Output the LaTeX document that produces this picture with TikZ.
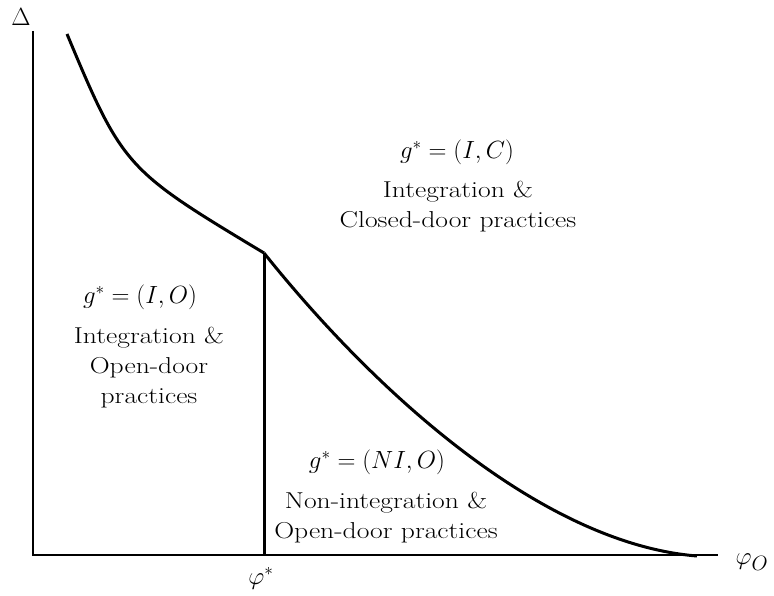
\documentclass[tikz,border=0pt]{standalone}
\usepackage{fontspec}
\usepackage{graphicx}
\newcommand\stretchlbl[1]{\scalebox{1.2}[1]{\begin{tabular}{@{}c@{}}#1\end{tabular}}}
\begin{document}
\begin{tikzpicture}[x=1pt,y=-1pt,
  axis/.style={line width=1.3pt},
  curve/.style={line width=3pt, line join=round},
  lab/.style={font=\fontsize{23}{30}\selectfont, inner sep=0pt},
  mlab/.style={font=\fontsize{24}{30}\selectfont, inner sep=0pt}]
\useasboundingbox (0,0) rectangle (774,596);
\coordinate (O) at (33,555);
\coordinate (ytop) at (33,31);
\coordinate (xend) at (718,555);
\coordinate (S) at (67,34);
\coordinate (K) at (264,253);
\coordinate (Kb) at (264,555);
\coordinate (E) at (697,556);
\draw[axis] (ytop) -- (O) -- (xend);
\draw[curve] (S) .. controls (123,168) and (126,170) .. (K);
\draw[curve] (K) .. controls (378.7,396.3) and (544.2,543.7) .. (E);
\draw[curve] (K) -- (Kb);
\node[mlab] (delta) at (21,17) {$\Delta$};
\node[mlab, font=\fontsize{28}{30}\selectfont] (phio) at (752,562) {$\varphi_O$};
\node[mlab, font=\fontsize{26}{30}\selectfont] (phis) at (261,578) {$\varphi^*$};
\node[mlab] (gic) at (457,152) {$g^* = (I,C)$};
\node[lab] (tic) at (458,207) {\stretchlbl{Integration \&\\Closed-door practices}};
\node[mlab] (gio) at (140,297) {$g^* = (I,O)$};
\node[lab] (tio) at (149,367) {\stretchlbl{Integration \&\\Open-door\\practices}};
\node[mlab] (gnio) at (377,462) {$g^* = (NI,O)$};
\node[lab] (tnio) at (386,517) {\stretchlbl{Non-integration \&\\Open-door practices}};
\end{tikzpicture}
\end{document}
